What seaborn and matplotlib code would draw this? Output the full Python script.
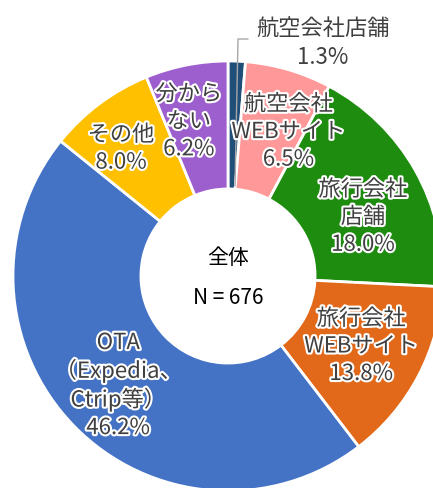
import numpy as np
import matplotlib
matplotlib.use("Agg")
import matplotlib.pyplot as plt
import matplotlib.patheffects as pe
import seaborn as sns

# datos (en el orden del gráfico, desde las 12 en sentido horario)
categorias = ["航空会社店舗", "航空会社\nWEBサイト", "旅行会社\n店舗", "旅行会社\nWEBサイト",
              "OTA\n（Expedia、\nCtrip等）", "その他", "分から\nない"]
porcentajes = [1.3, 6.5, 18.0, 13.8, 46.2, 8.0, 6.2]
colores = ["#1F4E79", "#FF9999", "#1E8C0F", "#E2691A", "#4472C4", "#FFC000", "#9E5FCE"]
titulo_centro = "全体"
n_total = 676

sns.set_theme(style="white")
plt.rcParams["font.family"] = ["Noto Sans CJK JP", "DejaVu Sans"]

W, H = 433, 489
cx, cy, R = 228, 277, 215   # centro y radio en píxeles
fig = plt.figure(figsize=(W / 100, H / 100), dpi=100)
ax = fig.add_axes([0, 0, 1, 1])

def px(x, y):
    # píxel -> coordenadas de datos
    return (x - cx) / R, (cy - y) / R

wedges, _ = ax.pie(porcentajes, colors=colores, startangle=90, counterclock=False,
                   radius=1.0, wedgeprops=dict(width=0.595, edgecolor="white", linewidth=2))

# límites después de pie (pie los reinicia)
ax.set_xlim(-cx / R, (W - cx) / R)
ax.set_ylim(-(H - cy) / R, cy / R)
ax.set_aspect("equal")
ax.axis("off")

efecto = [pe.withStroke(linewidth=3, foreground="white")]
color_txt = "#404040"

# ajustes de posición de etiquetas (píxeles)
ajustes = [None, (18, 0), (4, 15), (0, 0), (-2, 4), (-17, -7), (-10, -7)]

for w, cat, p, aj in zip(wedges, categorias, porcentajes, ajustes):
    if aj is None:
        continue
    ang = np.deg2rad((w.theta1 + w.theta2) / 2)
    r = 0.70
    x = r * np.cos(ang) + aj[0] / R
    y = r * np.sin(ang) - aj[1] / R
    ax.text(x, y, f"{cat}\n{p:.1f}%", ha="center", va="center", fontsize=16,
            color=color_txt, linespacing=1.25, path_effects=efecto)

# etiqueta exterior con línea guía
lx, ly = px(323, 43)
ax.text(lx, ly, f"{categorias[0]}\n{porcentajes[0]:.1f}%", ha="center", va="center",
        fontsize=16, color=color_txt, linespacing=1.35)
p1, p2, p3 = px(235, 187), px(238, 40), px(248, 40)
ax.plot([p1[0], p2[0], p3[0]], [p1[1], p2[1], p3[1]], color="#A6A6A6", lw=1)

# texto central
t1 = px(228, 258)
t2 = px(228, 298)
ax.text(t1[0], t1[1], titulo_centro, ha="center", va="center", fontsize=15, color="black")
ax.text(t2[0], t2[1], f"N = {n_total}", ha="center", va="center", fontsize=15, color="black")

fig.savefig("out.png", dpi=100)
